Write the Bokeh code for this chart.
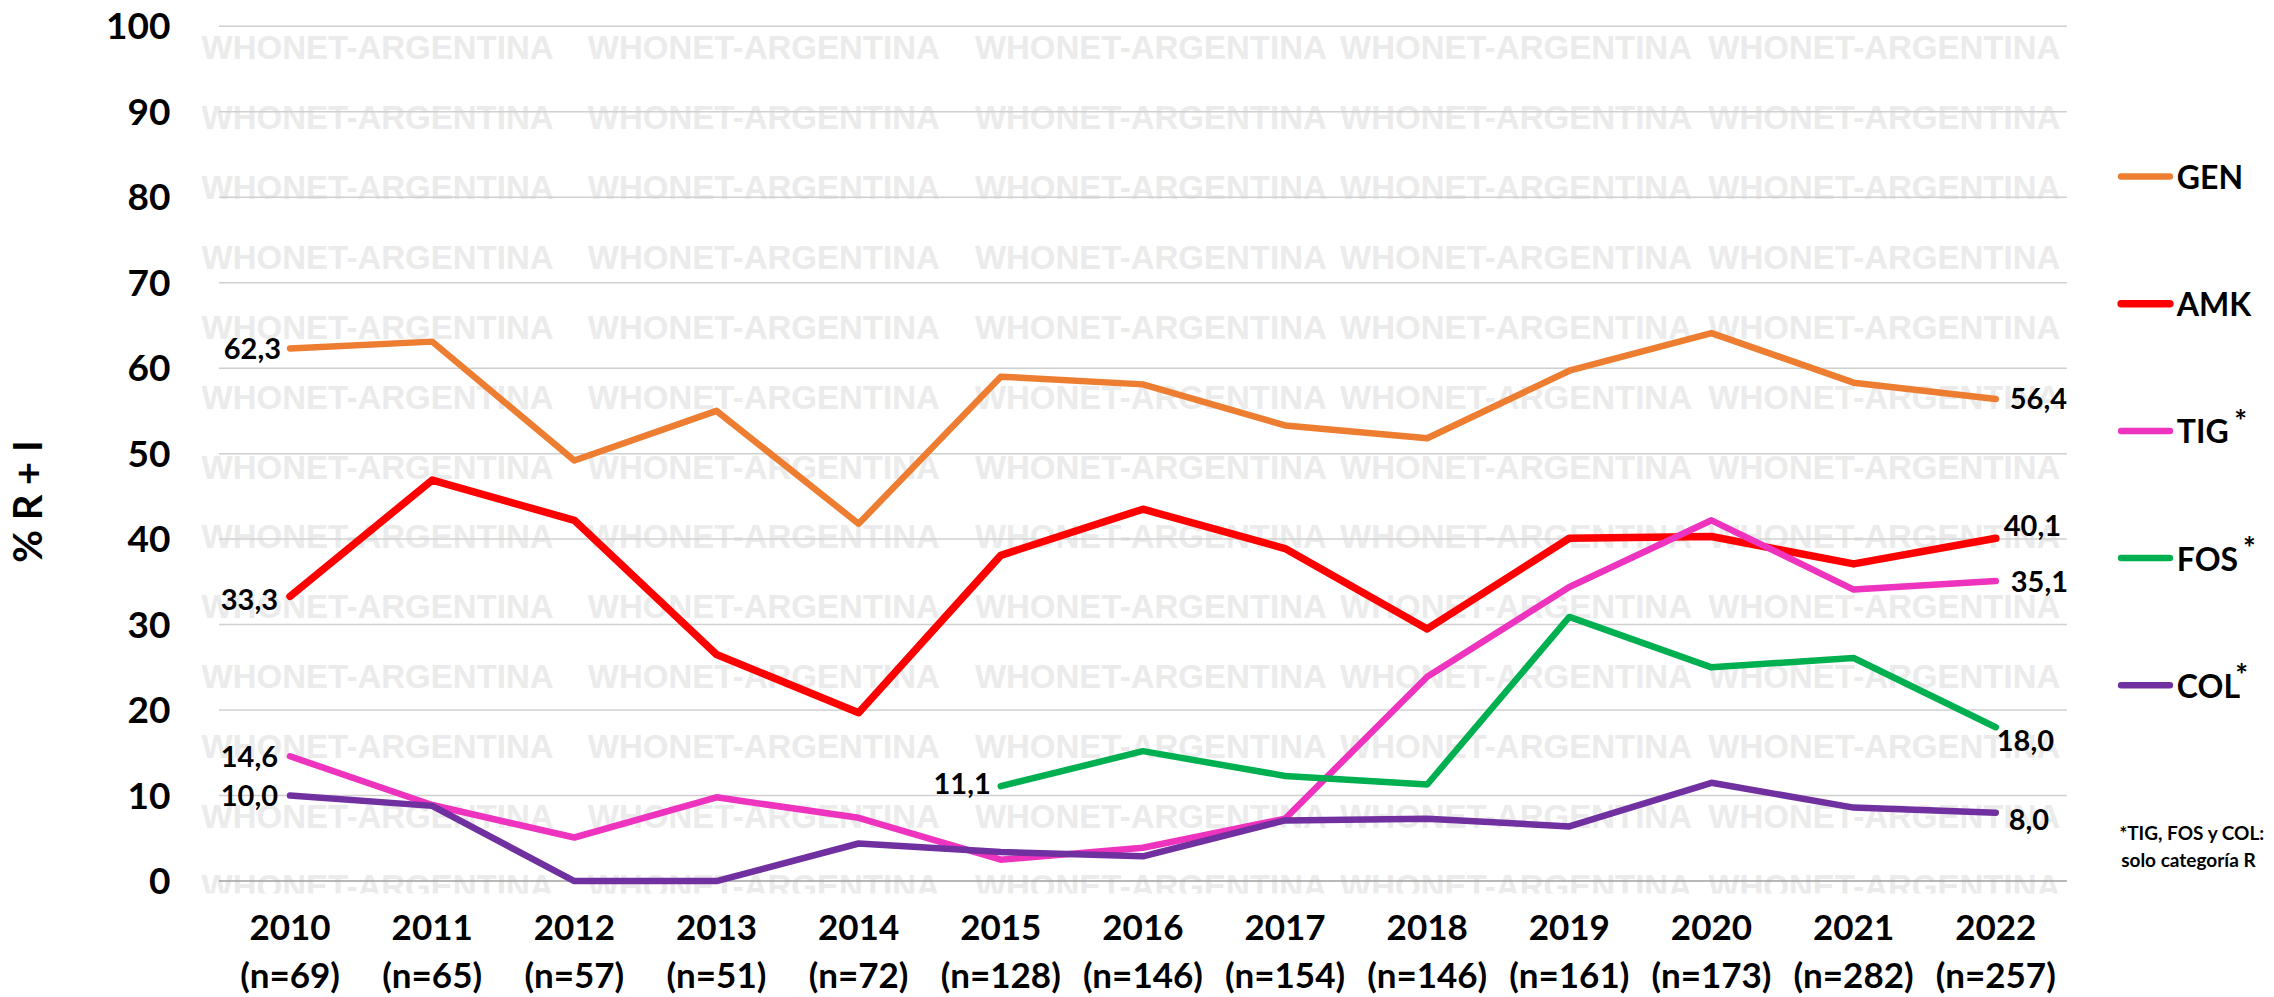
import math
from bokeh.plotting import figure
from bokeh.models import (Range1d, FixedTicker, LinearAxis, LabelSet, ColumnDataSource)
from bokeh.core.properties import value
from bokeh.embed import file_html
from bokeh.resources import INLINE

# ---------------- data ----------------
years = [2010, 2011, 2012, 2013, 2014, 2015, 2016, 2017, 2018, 2019, 2020, 2021, 2022]
n_counts = [69, 65, 57, 51, 72, 128, 146, 154, 146, 161, 173, 282, 257]
NA = float("nan")
gen = [62.3, 63.1, 49.2, 55.0, 41.8, 59.0, 58.1, 53.3, 51.8, 59.7, 64.1, 58.3, 56.4]
amk = [33.3, 46.9, 42.2, 26.5, 19.7, 38.1, 43.5, 38.9, 29.5, 40.1, 40.3, 37.1, 40.1]
tig = [14.6, 8.9, 5.1, 9.8, 7.4, 2.5, 3.9, 7.3, 23.9, 34.4, 42.2, 34.1, 35.1]
fos = [NA, NA, NA, NA, NA, 11.1, 15.2, 12.3, 11.3, 30.9, 25.0, 26.1, 18.0]
col = [10.0, 8.8, 0.0, 0.0, 4.4, 3.4, 2.9, 7.1, 7.3, 6.4, 11.5, 8.6, 8.0]
series_names = ["GEN", "AMK", "TIG", "FOS", "COL"]
series_values = [gen, amk, tig, fos, col]
starred = ["TIG", "FOS", "COL"]
y_ticks = [0, 10, 20, 30, 40, 50, 60, 70, 80, 90, 100]
y_title = "% R + I"
footnote = ["*TIG, FOS y COL:", "solo categoría R"]
watermark = "WHONET-ARGENTINA"

# ---------------- styles / layout ----------------
colors = {"GEN": "#ED7D31", "AMK": "#FF0000", "TIG": "#EE33BF", "FOS": "#00B050", "COL": "#7030A0"}
widths = {"GEN": 6.5, "AMK": 7.5, "TIG": 6.5, "FOS": 6.5, "COL": 6.5}
first_off = {"GEN": (-9, 0), "AMK": (-12, -3), "TIG": (-12, 0), "FOS": (-10, 3), "COL": (-12, 0)}
last_off = {"GEN": (14, 0), "AMK": (8, 13), "TIG": (15, 0), "FOS": (1, -13), "COL": (13, -7)}
FONT = "Lato"
x_lo, x_hi = years[0] - 0.5, years[-1] + 0.5          # chart (gridline) extent
title_pos = 44.4                                      # centre of the rotated y title (data units)
# legend block (data units, in the area right of the chart)
leg_x0, leg_x1, leg_tx = 2022.882, 2023.225, 2023.274
leg_y0, leg_step = 82.4, 14.87
star_dx = {"TIG": 2023.722, "FOS": 2023.785, "COL": 2023.729}
star_dy = 1.25
note_x, note_y = 2022.868, [5.67, 2.52]

p = figure(width=2274, height=997,
           x_range=Range1d(2009.370, 2023.961), y_range=Range1d(-1.45, 103.0),
           output_backend="svg", toolbar_location=None,
           min_border_left=190, min_border_right=0, min_border_top=0, min_border_bottom=103)
p.outline_line_color = None
p.background_fill_color = "white"
p.border_fill_color = "white"
p.xgrid.visible = False
p.ygrid.visible = False

# watermark (decoration)
wm_cols = [2010.616, 2013.333, 2016.056, 2018.625, 2021.216]
wm_rows = [97.45 - 8.17 * k for k in range(13)]
wx, wy = [], []
for r in wm_rows:
    for c in wm_cols:
        wx.append(c)
        wy.append(r)
p.text(x=wx, y=wy, text=[watermark] * len(wx), text_font=value("Liberation Sans"),
       text_font_style="bold", text_font_size="33px", text_color="#EBEBEB",
       text_align="center", text_baseline="middle", level="image")

# horizontal gridlines limited to the chart extent
grid_y = y_ticks[1:]
p.segment(x0=[x_lo] * len(grid_y), x1=[x_hi] * len(grid_y), y0=grid_y, y1=grid_y,
          line_color="#D0D0D0", line_width=1.5, level="underlay")
p.segment(x0=[x_lo], x1=[x_hi], y0=[y_ticks[0]], y1=[y_ticks[0]],
          line_color="#A0A0A0", line_width=1.5, level="underlay")

# y axis
ya = p.yaxis[0]
ya.ticker = FixedTicker(ticks=y_ticks)
ya.axis_line_color = None
ya.major_tick_line_color = None
ya.minor_tick_line_color = None
ya.major_label_text_font = FONT
ya.major_label_text_font_style = "bold"
ya.major_label_text_font_size = "37px"
ya.major_label_text_color = "black"
ya.major_label_standoff = 24

# y title as a rotated tick label of a second left axis
ta = LinearAxis(ticker=FixedTicker(ticks=[title_pos]),
                major_label_overrides={title_pos: y_title})
ta.major_label_orientation = "vertical"
ta.axis_line_color = None
ta.major_tick_line_color = None
ta.minor_tick_line_color = None
ta.major_label_text_font = FONT
ta.major_label_text_font_style = "bold"
ta.major_label_text_font_size = "40px"
ta.major_label_text_color = "black"
ta.major_label_standoff = 46
p.add_layout(ta, "left")

# x axes (years + counts)
def style_x(ax, labels, standoff):
    ax.ticker = FixedTicker(ticks=years)
    ax.major_label_overrides = {y: t for y, t in zip(years, labels)}
    ax.axis_line_color = None
    ax.major_tick_line_color = None
    ax.minor_tick_line_color = None
    ax.major_label_text_font = FONT
    ax.major_label_text_font_style = "bold"
    ax.major_label_text_font_size = "35px"
    ax.major_label_text_color = "black"
    ax.major_label_standoff = standoff

style_x(p.xaxis[0], [str(y) for y in years], 15)
ax2 = LinearAxis()
style_x(ax2, ["(n=%d)" % n for n in n_counts], 4)
p.add_layout(ax2, "below")

# series lines
for name, vals in zip(series_names, series_values):
    p.line(years, vals, line_color=colors[name], line_width=widths[name],
           line_join="round", line_cap="round")

# data labels (first & last value of each series)
def fmt(v):
    return ("%.1f" % v).replace(".", ",")

lx, ly, lt, ldx, ldy = [], [], [], [], []
rx, ry, rt, rdx, rdy = [], [], [], [], []
for name, vals in zip(series_names, series_values):
    idx = [i for i, v in enumerate(vals) if not math.isnan(v)]
    i0, i1 = idx[0], idx[-1]
    lx.append(years[i0]); ly.append(vals[i0]); lt.append(fmt(vals[i0]))
    ldx.append(first_off[name][0]); ldy.append(first_off[name][1])
    rx.append(years[i1]); ry.append(vals[i1]); rt.append(fmt(vals[i1]))
    rdx.append(last_off[name][0]); rdy.append(last_off[name][1])

left_src = ColumnDataSource(dict(x=lx, y=ly, t=lt, dx=ldx, dy=ldy))
right_src = ColumnDataSource(dict(x=rx, y=ry, t=rt, dx=rdx, dy=rdy))
for src, align in ((left_src, "right"), (right_src, "left")):
    p.add_layout(LabelSet(x="x", y="y", text="t", source=src, x_offset="dx", y_offset="dy",
                          text_font=value(FONT), text_font_style="bold", text_font_size="29px",
                          text_color="black", text_align=align, text_baseline="middle"))

# legend (drawn as glyphs right of the chart)
leg_y = [leg_y0 - leg_step * i for i in range(len(series_names))]
p.segment(x0=[leg_x0] * len(series_names), x1=[leg_x1] * len(series_names), y0=leg_y, y1=leg_y,
          line_color=[colors[n] for n in series_names],
          line_width=[widths[n] for n in series_names], line_cap="round")
p.text(x=[leg_tx] * len(series_names), y=leg_y, text=series_names, text_font=value(FONT),
       text_font_style="bold", text_font_size="32px", text_color="black",
       text_align="left", text_baseline="middle")
st_x = [star_dx[n] for n in starred]
st_y = [leg_y[series_names.index(n)] + star_dy for n in starred]
p.text(x=st_x, y=st_y, text=["*"] * len(starred), text_font=value(FONT),
       text_font_style="bold", text_font_size="30px", text_color="black",
       text_align="center", text_baseline="middle")

# footnote
p.text(x=[note_x + 0.014 * i for i in range(len(footnote))], y=note_y, text=footnote,
       text_font=value(FONT), text_font_style="bold", text_font_size="19px",
       text_color="black", text_align="left", text_baseline="middle")

open("out.html", "w").write(file_html(p, INLINE))
